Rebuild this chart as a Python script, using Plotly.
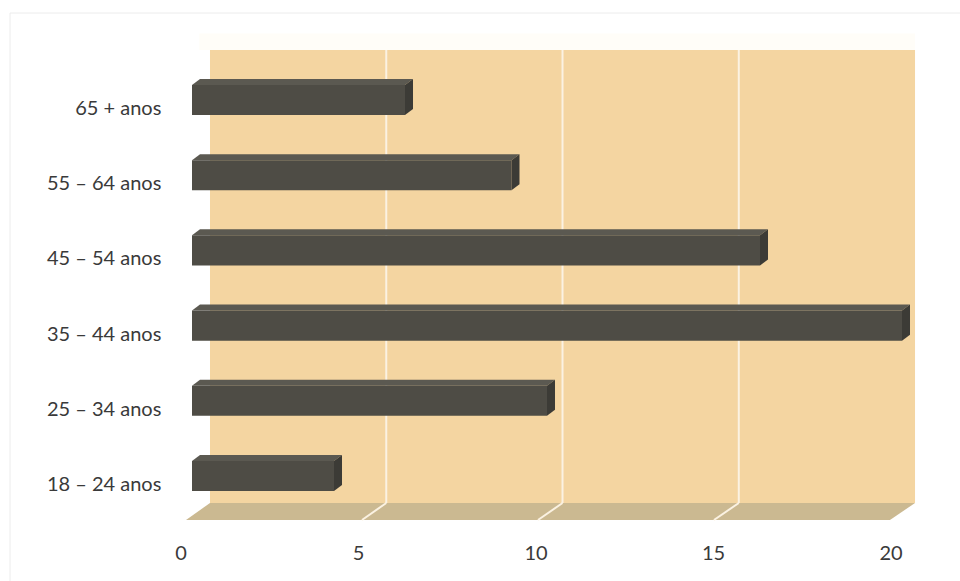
import plotly.graph_objects as go

# Data
categorias = ["18 – 24 anos", "25 – 34 anos", "35 – 44 anos",
              "45 – 54 anos", "55 – 64 anos", "65 + anos"]
valores = [4, 10, 20, 16, 9, 6]
ticks_x = [0, 5, 10, 15, 20]

W, H = 960, 581

# Cartesian frame (front plane of the bars)
PX_X = 35.5           # px per unit on x
ZERO_X = 192          # px of x = 0
PX_Y = 75.2           # px per category step
ZERO_Y = 476          # px of first category centre
x_range = [-0.75, 21.2]
y_range = [-0.75, 6.0]
dom_x = [(ZERO_X + x_range[0] * PX_X) / W, (ZERO_X + x_range[1] * PX_X) / W]
dom_y = [(H - (ZERO_Y - y_range[0] * PX_Y)) / H, (H - (ZERO_Y - y_range[1] * PX_Y)) / H]

# 3D look parameters
bar_w = 0.40                 # bar thickness (category units)
depth_x = 8 / PX_X           # bar depth, horizontal
depth_y = 6 / PX_Y           # bar depth, vertical
x_max = ticks_x[-1]


def back(v):
    """x position on the back wall for value v."""
    return 0.507 + 0.993 * v


def front_floor(v):
    """x position on the front floor edge for value v."""
    return -0.169 + 0.9915 * v


wall_bottom = -0.359
wall_top = 5.665
floor_front = -0.585

BAR_FRONT = "#4e4c45"
BAR_TOP = "#5b5951"
BAR_SIDE = "#3c3b36"
WALL = "#f4d5a1"
FLOOR = "#cbb991"
GRID = "#fbf2e2"

shapes = []

# chart frame
shapes.append(dict(type="line", xref="paper", yref="paper",
                   x0=10 / W, x1=1, y0=1 - 13 / H, y1=1 - 13 / H,
                   line=dict(color="#ececec", width=1), layer="below"))
shapes.append(dict(type="line", xref="paper", yref="paper",
                   x0=10 / W, x1=10 / W, y0=0, y1=1 - 13 / H,
                   line=dict(color="#ececec", width=1), layer="below"))

# faint top edge of the wall
shapes.append(dict(type="rect", xref="x", yref="y",
                   x0=back(0) - 0.3, x1=back(x_max), y0=wall_top, y1=wall_top + 0.22,
                   fillcolor="#fffdf8", line=dict(width=0), layer="below"))

# back wall
shapes.append(dict(type="rect", xref="x", yref="y",
                   x0=back(0), x1=back(x_max), y0=wall_bottom, y1=wall_top,
                   fillcolor=WALL, line=dict(width=0), layer="below"))

# floor
shapes.append(dict(type="path", xref="x", yref="y",
                   path=(f"M {front_floor(0)},{floor_front} L {front_floor(x_max)},{floor_front} "
                         f"L {back(x_max)},{wall_bottom} L {back(0)},{wall_bottom} Z"),
                   fillcolor=FLOOR, line=dict(width=0), layer="below"))

# grid lines on wall and floor
for t in ticks_x[1:-1]:
    shapes.append(dict(type="line", xref="x", yref="y",
                       x0=back(t), x1=back(t), y0=wall_bottom, y1=wall_top,
                       line=dict(color=GRID, width=2), layer="below"))
    shapes.append(dict(type="line", xref="x", yref="y",
                       x0=front_floor(t), x1=back(t), y0=floor_front, y1=wall_bottom,
                       line=dict(color=GRID, width=2), layer="below"))

# bar top and side faces
for i, v in enumerate(valores):
    yt = i + bar_w / 2
    yb = i - bar_w / 2
    shapes.append(dict(type="path", xref="x", yref="y",
                       path=(f"M 0,{yt} L {v},{yt} L {v + depth_x},{yt + depth_y} "
                             f"L {depth_x},{yt + depth_y} Z"),
                       fillcolor=BAR_TOP, line=dict(width=0), layer="above"))
    shapes.append(dict(type="path", xref="x", yref="y",
                       path=(f"M {v},{yt} L {v + depth_x},{yt + depth_y} "
                             f"L {v + depth_x},{yb + depth_y} L {v},{yb} Z"),
                       fillcolor=BAR_SIDE, line=dict(width=0), layer="above"))

fig = go.Figure()
fig.add_trace(go.Bar(
    x=valores, y=list(range(len(categorias))), orientation="h",
    width=bar_w, marker=dict(color=BAR_FRONT, line=dict(width=0)),
    hoverinfo="skip",
))

fig.update_layout(
    width=W, height=H,
    margin=dict(l=0, r=0, t=0, b=0),
    paper_bgcolor="white", plot_bgcolor="rgba(0,0,0,0)",
    showlegend=False,
    shapes=shapes,
    font=dict(family="Lato, Open Sans, sans-serif", size=20, color="#3a3a3a"),
    xaxis=dict(domain=dom_x, range=x_range, tickvals=ticks_x,
               ticktext=[str(t) for t in ticks_x],
               showgrid=False, zeroline=False, showline=False,
               ticks="", ticklabelshift=-11, ticklabelstandoff=7,
               fixedrange=True),
    yaxis=dict(domain=dom_y, range=y_range,
               tickvals=list(range(len(categorias))), ticktext=categorias,
               showgrid=False, zeroline=False, showline=False,
               ticks="", ticklabelshift=8, ticklabelstandoff=3,
               fixedrange=True),
)

fig.write_html("out.html")
